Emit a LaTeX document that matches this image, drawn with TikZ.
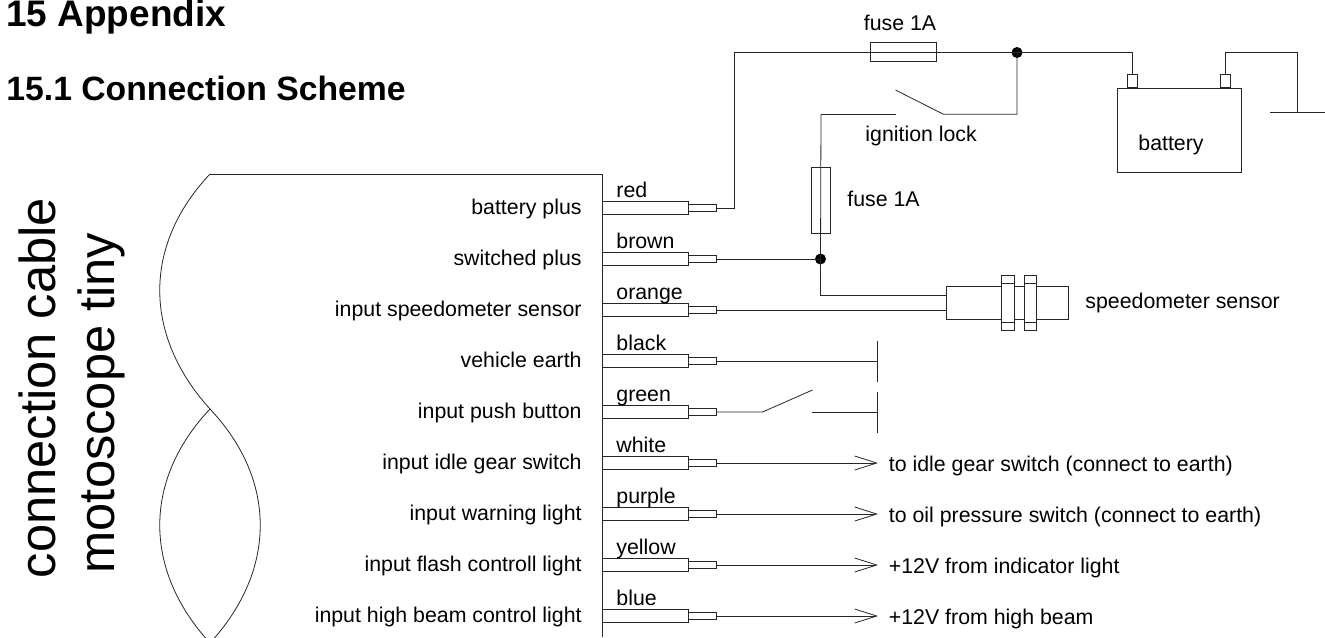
\documentclass[tikz,border=0pt]{standalone}
\usepackage{fontspec}
\setmainfont{Liberation Sans}
\usetikzlibrary{arrows.meta}
\def\px{0.75pt}
\tikzset{
  x=0.75pt,y=-0.75pt,
  txt/.style={inner sep=0pt,font=\fontsize{16pt}{18pt}\selectfont,text=black},
  lab/.style={txt,anchor=base east},
  col/.style={txt,anchor=base west},
  note/.style={txt,anchor=base west},
  heada/.style={inner sep=0pt,anchor=base west,font=\fontsize{27.7pt}{30pt}\bfseries\selectfont,text=black},
  headb/.style={inner sep=0pt,anchor=base west,font=\fontsize{25.3pt}{28pt}\bfseries\selectfont,text=black},
  big/.style={inner sep=0pt,anchor=base,rotate=90,font=\fontsize{38pt}{40pt}\selectfont,text=black},
  plug/.style={draw,fill=white,minimum width=86*\px,minimum height=12.5*\px,inner sep=0pt,anchor=west},
  sleeve/.style={draw,fill=white,minimum width=28*\px,minimum height=7*\px,inner sep=0pt,anchor=west},
  part/.style={draw,fill=white,inner sep=0pt},
  joint/.style={circle,fill=black,draw=none,minimum size=11*\px,inner sep=0pt},
  openarrow/.style={-{Straight Barb[length=16.5pt,width=10.5pt,line width=0.6pt]}},
}
\newcommand{\plugrow}[4]{%
  \node[plug] (p#1) at (602,#2) {};
  \node[sleeve] (s#1) at (688,#2) {};
  \node[col] (c#1) at (616,#2-11) {#3};
  \node[lab] (l#1) at (582,#2+6) {#4};
}
\begin{document}
\begin{tikzpicture}[line width=0.6pt,color=black!85]
\useasboundingbox (0,0) rectangle (1325,637);
% headings
\node[heada] (h1) at (6,26.7) {15 Appendix};
\node[headb] (h2) at (6,100.5) {15.1 Connection Scheme};
\node[big] (b1) at (55,388) {connection cable};
\node[big] (b2) at (114,403) {motoscope tiny};
% cable outline
\coordinate (ctop) at (210,174);
\coordinate (cmid) at (210,409);
\coordinate (cbot) at (210,643);
\coordinate (cright) at (602,174);
\coordinate (cend) at (602,637);
\begin{scope}
\clip (0,0) rectangle (1325,637);
\draw (ctop) .. controls (143,245) and (143,335) .. (cmid);
\draw (cmid) .. controls (143,480) and (143,570) .. (cbot);
\draw (cmid) .. controls (277,480) and (277,570) .. (cbot);
\end{scope}
\draw (ctop) -- (cright) -- (cend);
% rows
\plugrow{red}{208}{red}{battery plus}
\plugrow{brown}{259}{brown}{switched plus}
\plugrow{orange}{310}{orange}{input speedometer sensor}
\plugrow{black}{361}{black}{vehicle earth}
\plugrow{green}{412}{green}{input push button}
\plugrow{white}{463}{white}{input idle gear switch}
\plugrow{purple}{514}{purple}{input warning light}
\plugrow{yellow}{565}{yellow}{input flash controll light}
\plugrow{blue}{616}{blue}{input high beam control light}
% top fuse wire
\coordinate (topleft) at (734,52.5);
\node[joint] (j1) at (1017,52.5) {};
\draw (sred.east) -| (topleft) -- (j1.center);
\node[part,minimum width=66*\px,minimum height=19*\px,fill=none] (f1) at (903.2,52) {};
\node[note] (tf1) at (863.5,30.5) {fuse 1A};
% battery
\node[part,minimum width=124*\px,minimum height=84*\px] (bat) at (1179,130) {};
\node[part,minimum width=10*\px,minimum height=13*\px] (tp) at (1132,81) {};
\node[part,minimum width=10*\px,minimum height=13*\px] (tm) at (1225.5,81) {};
\node[note] (tbat) at (1138,150) {battery};
\draw (j1.center) -| (tp.north);
\coordinate (gnd) at (1297.5,112);
\coordinate (gndl) at (1270,112);
\coordinate (gndr) at (1325,112);
\draw (tm.north) |- (1297.5,52.5) -- (gnd);
\draw (gndl) -- (gndr);
% ignition switch
\coordinate (swa) at (943.5,114.3);
\coordinate (swb) at (895.5,90);
\coordinate (swc) at (896,114.3);
\coordinate (swd) at (821,114.3);
\draw (j1.center) |- (swa) -- (swb);
\draw (swc) -- (swd);
\node[note] (til) at (865,141.5) {ignition lock};
% second fuse
\node[joint] (j2) at (820.5,259) {};
\draw (sbrown.east) -- (j2.center);
\draw (swd) -- (j2.center);
\node[part,minimum width=19*\px,minimum height=66*\px,fill=none] (f2) at (821,200.5) {};
\node[note] (tf2) at (847,206.5) {fuse 1A};
% sensor
\node[part,minimum width=122*\px,minimum height=33*\px] (sen) at (1007.5,303) {};
\draw (j2.center) |- (946.5,295.7);
\draw (sorange.east) -- (sen.west |- sorange.east);
\node[part,minimum width=12.5*\px,minimum height=55*\px] (fl1) at (1008,302.5) {};
\node[part,minimum width=12.5*\px,minimum height=55*\px] (fl2) at (1030.5,302.5) {};
\draw (fl1.west |- 0,283) -- (fl1.east |- 0,283) (fl1.west |- 0,322) -- (fl1.east |- 0,322);
\draw (fl2.west |- 0,283) -- (fl2.east |- 0,283) (fl2.west |- 0,322) -- (fl2.east |- 0,322);
\node[note] (tsen) at (1085,308) {speedometer sensor};
% earth
\coordinate (e1t) at (877.5,341);
\coordinate (e1b) at (877.5,381.5);
\draw (e1t) -- (e1b);
\draw (sblack.east) -- (877.5,361);
% push button
\coordinate (pba) at (762.5,412);
\coordinate (pbb) at (812.5,390);
\coordinate (pbc) at (811.5,412);
\coordinate (e2t) at (877.5,391.5);
\coordinate (e2b) at (877.5,432.5);
\draw (sgreen.east) -- (pba) -- (pbb);
\draw (pbc) -- (877.5,412);
\draw (e2t) -- (e2b);
% arrows
\coordinate (awhite) at (878,463);
\coordinate (apurple) at (878,514);
\coordinate (ayellow) at (878,565);
\coordinate (ablue) at (878,616);
\draw[openarrow] (swhite.east) -- (awhite);
\draw[openarrow] (spurple.east) -- (apurple);
\draw[openarrow] (syellow.east) -- (ayellow);
\draw[openarrow] (sblue.east) -- (ablue);
\node[note] (n1) at (888.5,471) {to idle gear switch (connect to earth)};
\node[note] (n2) at (888.5,522) {to oil pressure switch (connect to earth)};
\node[note] (n3) at (888.5,573) {+12V from indicator light};
\node[note] (n4) at (888.5,624) {+12V from high beam};
\end{tikzpicture}
\end{document}
